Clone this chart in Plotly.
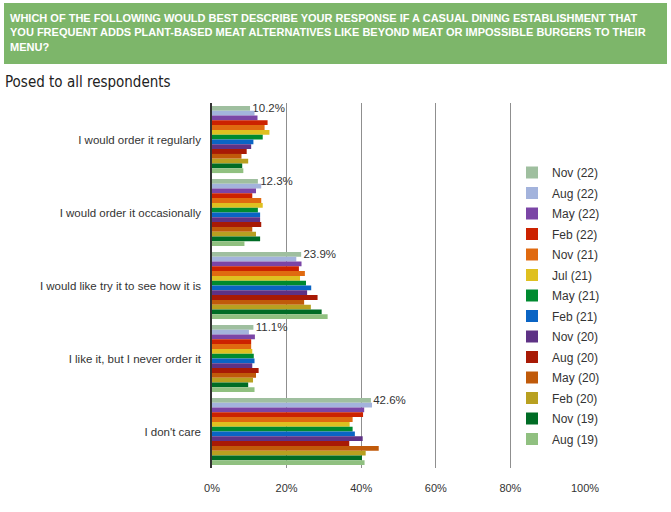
"""Plant-based meat alternatives survey: grouped horizontal bars by wave."""

import plotly.graph_objects as go

W, H = 671, 512

RESPONSES = [
    "I would order it regularly",
    "I would order it occasionally",
    "I would like try it to see how it is",
    "I like it, but I never order it",
    "I don't care",
]

WAVES = [
    "Nov (22)", "Aug (22)", "May (22)", "Feb (22)", "Nov (21)", "Jul (21)", "May (21)",
    "Feb (21)", "Nov (20)", "Aug (20)", "May (20)", "Feb (20)", "Nov (19)", "Aug (19)",
]

# share of respondents (%) per wave, in RESPONSES order
VALUES = {
    "Nov (22)": [10.2, 12.3, 23.9, 11.1, 42.6],
    "Aug (22)": [11.4, 13.2, 22.6, 9.9, 42.9],
    "May (22)": [12.2, 11.8, 24.0, 11.5, 40.8],
    "Feb (22)": [14.9, 10.8, 23.3, 10.5, 40.5],
    "Nov (21)": [14.1, 13.2, 24.9, 10.5, 37.7],
    "Jul (21)": [15.4, 13.6, 23.6, 10.8, 36.9],
    "May (21)": [13.6, 12.3, 25.2, 11.2, 37.7],
    "Feb (21)": [11.1, 12.9, 26.6, 11.4, 38.3],
    "Nov (20)": [10.5, 12.9, 25.5, 10.8, 40.4],
    "Aug (20)": [9.3, 13.2, 28.3, 12.5, 36.8],
    "May (20)": [7.9, 10.8, 24.7, 11.8, 44.7],
    "Feb (20)": [9.7, 11.8, 26.5, 11.0, 41.2],
    "Nov (19)": [8.1, 12.9, 29.4, 9.7, 40.2],
    "Aug (19)": [8.4, 8.7, 31.0, 11.4, 40.9],
}

COLORS = [
    "#9fbf9f", "#a3b3dc", "#7b45a6", "#cc2200", "#e06a10", "#dfc020", "#008a30",
    "#0a64c4", "#5e3285", "#a81a05", "#c05a0a", "#b8a020", "#006c25", "#90c080",
]

X_TICKS = [0, 20, 40, 60, 80, 100]

TITLE_LINES = [
    "WHICH OF THE FOLLOWING WOULD BEST DESCRIBE YOUR RESPONSE IF A CASUAL DINING ESTABLISHMENT THAT",
    "YOU FREQUENT ADDS PLANT-BASED MEAT ALTERNATIVES LIKE BEYOND MEAT OR IMPOSSIBLE BURGERS TO THEIR",
    "MENU?",
]

# plot area in pixels
L, R, T, B = 212, 585, 103, 468


def px_x(p):
    return (p - L) / (R - L)


def px_y(p):
    return (B - p) / (B - T)


fig = go.Figure()
for i, (wave, color) in enumerate(zip(WAVES, COLORS)):
    vals = VALUES[wave]
    fig.add_trace(go.Bar(
        y=RESPONSES,
        x=vals,
        orientation="h",
        name=wave,
        legendgroup=wave,
        marker=dict(color=color, line=dict(width=0)),
        # only the latest wave carries a value label, padded off the bar end
        text=[f"\u2009{v:.1f}%" for v in vals] if i == 0 else None,
        textposition="outside" if i == 0 else "none",
        constraintext="none",
        cliponaxis=False,
        textfont=dict(family="Liberation Sans, Arial", size=11.5, color="#333333"),
    ))

fig.update_layout(
    width=W,
    height=H,
    margin=dict(l=L, r=W - R, t=T, b=H - B, autoexpand=False),
    paper_bgcolor="white",
    plot_bgcolor="white",
    barmode="group",
    bargap=0.08,
    bargroupgap=0,
    font=dict(family="Liberation Sans, Arial", size=11, color="#333333"),
    legend=dict(
        x=px_x(512), y=px_y(158), xanchor="left", yanchor="top",
        bgcolor="rgba(0,0,0,0)", font=dict(size=12, color="#333333"),
        itemwidth=30, traceorder="grouped", tracegroupgap=1.5,
    ),
    shapes=[
        dict(type="rect", xref="paper", yref="paper",
             x0=px_x(4), x1=px_x(667), y0=px_y(64), y1=px_y(3),
             fillcolor="#7db66a", line=dict(width=0), layer="below"),
    ],
    annotations=[
        dict(text="<br>".join(TITLE_LINES),
             xref="paper", yref="paper", x=px_x(8), y=px_y(10),
             xanchor="left", yanchor="top", align="left", showarrow=False,
             font=dict(family="Liberation Sans, Arial", size=11,
                       color="white", weight="bold")),
        dict(text="Posed to all respondents", xref="paper", yref="paper",
             x=px_x(3), y=px_y(82), xanchor="left", yanchor="middle", showarrow=False,
             font=dict(family="DejaVu Sans Condensed, Liberation Sans", size=15, color="#222222")),
    ],
)

fig.update_xaxes(
    range=[0, 100],
    tickvals=X_TICKS,
    ticktext=[f"{t}%" for t in X_TICKS],
    showgrid=True, gridcolor="#8f8f8f", gridwidth=1,
    zeroline=False, showline=False,
    ticks="", ticklabelstandoff=12,
    tickfont=dict(size=11, color="#333333"),
)
fig.update_yaxes(
    autorange="reversed",
    showline=True, linecolor="#333333", linewidth=1.5,
    showgrid=False, ticks="", ticklabelstandoff=7,
    tickfont=dict(size=11.5, color="#333333"),
)

# drop the browser's default 8px body margin so the figure sits at the page corner
fig.write_html(
    "out.html",
    config={"displayModeBar": False},
    post_script="document.body.style.margin = '0';",
)
